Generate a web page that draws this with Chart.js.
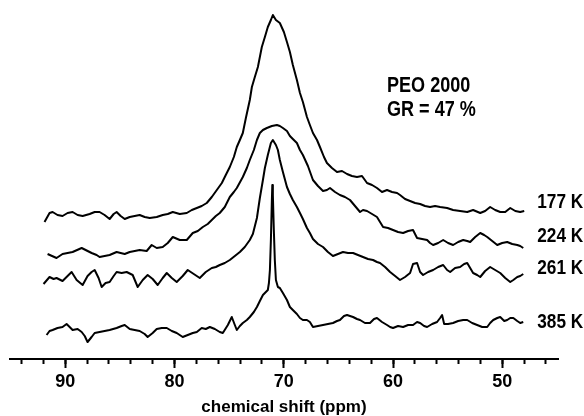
<!DOCTYPE html>
<html><head><meta charset="utf-8">
<script src="https://cdn.jsdelivr.net/npm/chart.js@4/dist/chart.umd.min.js"></script>
<style>html,body{margin:0;padding:0;background:#fff;}#wrap{width:584px;height:416px;position:relative;}</style>
</head><body><div id="wrap"><canvas id="c"></canvas></div>
<script>
const FONT = "'Liberation Sans',Arial,sans-serif";

// temperatures (series names), baseline offsets and label heights (intensity units)
const temps = ['177 K', '224 K', '261 K', '385 K'];
const offsets = [144, 107, 81, 31];
const labelY = [157, 123, 91, 37];
const labelPpm = 46.8;

// annotation
const noteLines = ['PEO 2000', 'GR = 47 %'];
const notePpm = 60.55;
const noteY = [273, 249];

// x-axis
const xMin = 44.9, xMax = 95.06;
const majorStep = 10, minorStep = 2;
const xTitle = 'chemical shift (ppm)';

// spectra: [chemical shift (ppm), intensity above baseline]
const trace177 = [[91.90,-7],[91.44,2],[91.16,3],[90.71,0],[90.25,-1],[89.79,2],[89.33,3],[88.87,0],[88.41,-1],[87.77,1],[87.31,3],[86.86,3],[86.40,0],[85.94,-4],[85.57,1],[85.30,3],[84.93,-1],[84.56,-4],[84.10,-2],[83.65,-1],[83.19,0],[82.73,-2],[82.27,-3],[81.63,-2],[81.08,0],[80.62,1],[80.16,3],[79.52,1],[78.88,2],[78.42,5],[77.96,7],[77.51,9],[77.05,12],[76.59,18],[76.13,25],[75.67,32],[75.31,40],[74.94,48],[74.57,58],[74.30,68],[74.02,75],[73.75,82],[73.47,97],[73.11,115],[72.92,128],[72.65,138],[72.37,148],[72.01,168],[71.73,178],[71.46,188],[71.18,195],[71.00,200],[70.72,195],[70.36,192],[69.99,183],[69.71,173],[69.44,163],[69.17,150],[68.80,135],[68.52,122],[68.25,113],[67.88,98],[67.61,90],[67.33,82],[66.96,75],[66.69,68],[66.32,58],[66.05,52],[65.59,47],[65.13,43],[64.67,44],[64.21,41],[63.76,39],[63.30,38],[62.84,39],[62.38,32],[61.92,30],[61.47,27],[61.01,23],[60.55,25],[60.09,23],[59.63,22],[59.36,20],[58.90,16],[58.44,14],[57.98,12],[57.52,11],[57.07,9],[56.61,8],[56.15,9],[55.69,8],[55.05,7],[54.50,5],[53.86,4],[53.21,3],[52.67,5],[52.02,2],[51.57,4],[51.11,8],[50.65,5],[50.19,3],[49.73,3],[49.27,7],[48.81,4],[48.36,3],[47.99,4]];

const trace224 = [[91.62,-2],[90.80,-6],[90.25,-2],[89.33,0],[88.50,4],[87.59,-1],[87.13,-3],[86.86,-5],[85.94,-3],[85.30,0],[84.56,-2],[84.10,0],[83.19,2],[82.55,1],[82.09,7],[81.63,4],[81.08,5],[80.62,9],[80.16,15],[79.52,12],[78.88,12],[78.33,19],[77.87,21],[77.41,25],[76.96,28],[76.59,32],[76.22,36],[75.86,39],[75.40,45],[74.94,55],[74.57,60],[74.30,64],[73.75,75],[73.38,84],[73.11,92],[72.74,102],[72.46,112],[72.19,119],[71.91,122],[71.55,124],[71.09,126],[70.63,127],[70.36,126],[70.08,124],[69.71,121],[69.44,116],[69.17,113],[68.80,109],[68.52,102],[68.25,97],[67.79,86],[67.33,72],[66.87,66],[66.41,61],[66.05,62],[65.77,64],[65.31,60],[64.86,57],[64.40,55],[63.94,52],[63.48,46],[63.02,40],[62.75,42],[62.38,41],[61.92,38],[61.47,35],[61.19,30],[60.91,25],[60.46,24],[60.00,22],[59.54,20],[59.08,19],[58.62,21],[58.17,22],[57.80,14],[57.34,13],[56.88,12],[56.61,9],[56.33,7],[55.87,9],[55.41,12],[54.96,9],[54.50,7],[54.04,10],[53.58,12],[53.21,11],[52.94,10],[52.48,15],[52.02,19],[51.66,17],[51.38,15],[50.92,11],[50.46,7],[50.01,9],[49.55,10],[49.09,8],[48.63,7],[48.36,6],[48.08,4]];

const trace261 = [[91.99,-6],[91.44,1],[91.07,-1],[90.80,0],[90.25,-3],[89.79,2],[89.42,6],[88.96,-2],[88.41,-7],[87.96,2],[87.59,6],[87.31,8],[86.95,0],[86.67,-9],[86.31,-5],[85.94,-4],[85.57,2],[85.30,6],[84.84,5],[84.38,6],[83.83,3],[83.37,-9],[82.91,-2],[82.46,3],[82.00,-1],[81.54,-7],[81.08,0],[80.71,5],[80.25,0],[79.80,-4],[79.25,2],[78.79,8],[78.24,4],[77.69,0],[77.14,6],[76.59,10],[76.22,11],[75.86,13],[75.40,15],[74.94,18],[74.48,22],[74.02,26],[73.57,31],[73.11,38],[72.83,44],[72.46,60],[72.19,80],[71.91,98],[71.73,110],[71.46,123],[71.18,135],[71.00,138],[70.72,133],[70.54,128],[70.36,118],[70.08,106],[69.71,91],[69.44,84],[69.17,78],[68.80,71],[68.52,65],[68.25,59],[67.88,50],[67.61,45],[67.33,39],[66.87,34],[66.41,31],[65.96,26],[65.50,22],[65.04,24],[64.58,26],[64.12,25],[63.66,25],[63.21,23],[62.75,21],[62.29,19],[61.83,18],[61.47,16],[61.19,15],[60.73,11],[60.27,6],[59.81,2],[59.36,-2],[58.90,1],[58.44,5],[58.17,14],[57.80,15],[57.52,6],[57.25,3],[56.79,6],[56.33,8],[55.87,11],[55.41,13],[55.05,8],[54.77,6],[54.32,10],[53.86,11],[53.49,14],[53.21,15],[52.94,10],[52.67,5],[52.30,3],[52.02,1],[51.57,7],[51.11,11],[50.65,8],[50.19,5],[49.73,0],[49.27,-4],[48.99,-2],[48.63,1],[48.36,2],[48.08,4]];

const trace385 = [[91.71,-7],[91.44,-3],[91.16,-2],[90.71,0],[90.25,1],[89.88,4],[89.60,1],[89.33,-2],[88.87,-1],[88.50,-4],[88.22,-8],[87.96,-14],[87.59,-9],[87.31,-5],[86.86,-4],[86.40,-3],[85.94,-2],[85.30,0],[84.84,2],[84.56,3],[84.10,-1],[83.65,-2],[83.19,-3],[82.73,-6],[82.46,-9],[82.00,-5],[81.63,-1],[81.17,0],[80.71,0],[80.25,-3],[79.80,-5],[79.25,-9],[78.79,-7],[78.33,-5],[77.96,-4],[77.51,0],[77.14,-1],[76.77,1],[76.31,-1],[75.86,-4],[75.58,-5],[75.12,3],[74.76,11],[74.48,3],[74.30,-2],[74.02,2],[73.75,5],[73.38,8],[73.11,11],[72.74,16],[72.46,21],[72.19,27],[71.91,33],[71.64,36],[71.46,38],[71.36,45],[71.27,58],[71.18,88],[71.09,128],[71.05,143],[71.00,133],[70.91,98],[70.82,68],[70.72,48],[70.54,41],[70.36,40],[70.08,35],[69.71,28],[69.44,21],[69.17,18],[68.80,14],[68.52,10],[68.25,8],[67.88,8],[67.61,6],[67.33,1],[66.87,2],[66.41,3],[65.96,4],[65.50,5],[65.13,7],[64.86,8],[64.49,12],[64.21,13],[63.94,12],[63.66,11],[63.30,9],[63.02,8],[62.57,5],[62.11,5],[61.74,9],[61.47,10],[61.01,6],[60.55,3],[60.27,1],[60.00,0],[59.54,2],[59.08,1],[58.62,3],[58.17,3],[57.80,6],[57.52,5],[57.16,2],[56.88,1],[56.42,4],[55.97,6],[55.69,10],[55.51,13],[55.32,4],[54.96,4],[54.50,5],[54.04,7],[53.58,8],[53.21,8],[52.76,5],[52.30,3],[51.84,1],[51.38,1],[51.11,5],[50.83,8],[50.46,10],[50.19,11],[49.82,7],[49.55,8],[49.27,10],[48.99,10],[48.63,7],[48.36,5],[48.08,6]];

const traces = [trace177, trace224, trace261, trace385];

const datasets = traces.map((t, k) => ({
  label: temps[k],
  data: t.map(p => ({x: p[0], y: offsets[k] + p[1]})),
  borderColor: '#000',
  borderWidth: 2,
  pointRadius: 0,
  tension: 0,
  fill: false,
  borderJoinStyle: 'round'
}));

// condensed bold text, like the original figure's narrow typeface
function narrowText(ctx, text, x, y, size) {
  ctx.save();
  ctx.font = 'bold ' + size + 'px ' + FONT;
  ctx.translate(x, y);
  ctx.scale(0.82, 1);
  ctx.fillText(text, 0, 0);
  ctx.restore();
}

const textPlugin = {
  id: 'texts',
  afterDraw(chart) {
    const ctx = chart.ctx, xs = chart.scales.x, ys = chart.scales.y;
    ctx.save();
    ctx.fillStyle = '#000';
    ctx.textAlign = 'left';
    ctx.textBaseline = 'middle';
    temps.forEach((t, k) => {
      narrowText(ctx, t, xs.getPixelForValue(labelPpm), ys.getPixelForValue(labelY[k]), 21);
    });
    noteLines.forEach((t, k) => {
      narrowText(ctx, t, xs.getPixelForValue(notePpm), ys.getPixelForValue(noteY[k]), 22);
    });
    ctx.restore();
  }
};

new Chart(document.getElementById('c'), {
  type: 'line',
  data: {datasets},
  plugins: [textPlugin],
  options: {
    responsive: true,
    maintainAspectRatio: false,
    animation: false,
    devicePixelRatio: 1,
    layout: {padding: {left: 10, right: 26, top: 0, bottom: 0}},
    plugins: {legend: {display: false}, tooltip: {enabled: false}},
    scales: {
      x: {
        type: 'linear', position: 'bottom', reverse: true, weight: 1,
        min: xMin, max: xMax,
        afterFit(s) { s.height = 57; },
        grid: {drawOnChartArea: false, drawTicks: true, tickLength: 9, tickWidth: 2, tickColor: '#000'},
        border: {display: true, color: '#000', width: 2},
        ticks: {stepSize: majorStep, includeBounds: false, padding: 3, color: '#000', maxRotation: 0,
          font: {family: FONT, size: 18, weight: 'bold'},
          callback: v => String(v)},
        title: {display: true, text: xTitle, color: '#000', padding: {top: 0, bottom: 0},
          font: {family: FONT, size: 17, weight: 'bold', lineHeight: 1.0}}
      },
      x2: {
        type: 'linear', position: 'bottom', reverse: true, weight: 0,
        min: xMin, max: xMax,
        afterFit(s) { s.height = 0; },
        grid: {drawOnChartArea: false, drawTicks: true, tickLength: 5, tickWidth: 2, tickColor: '#000'},
        border: {display: false},
        ticks: {stepSize: minorStep, includeBounds: false, display: false}
      },
      y: {type: 'linear', display: false, min: 0, max: 359}
    }
  }
});
</script></body></html>
